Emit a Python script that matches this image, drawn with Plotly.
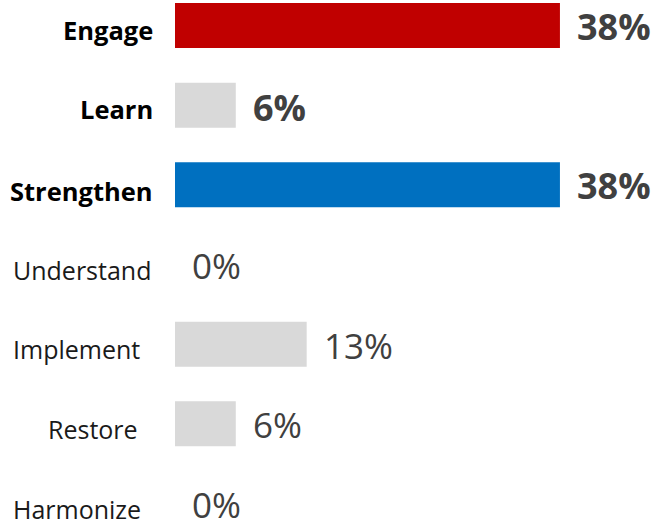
import plotly.graph_objects as go

categories = ["Engage", "Learn", "Strengthen", "Understand", "Implement", "Restore", "Harmonize"]
values = [38, 6, 38, 0, 13, 6, 0]
value_labels = ["38%", "6%", "38%", "0%", "13%", "6%", "0%"]
highlight = [True, True, True, False, False, False, False]

bar_colors = ["#C00000", "#D9D9D9", "#0070C0", "#D9D9D9", "#D9D9D9", "#D9D9D9", "#D9D9D9"]
label_right_shift = [-20, -20, -20, -22, -33, -35, -32]
label_yshift = [-5, -4, -6, -5, -5, -5, -5]
value_yshift = [-1, -2, -1, -1, -1, -1, -1]

FONT = "Open Sans"
ROW = 79.7

fig = go.Figure()
fig.add_trace(go.Bar(
    y=categories, x=values, orientation="h",
    marker=dict(color=bar_colors, line=dict(width=0)),
    width=45 / ROW, hoverinfo="skip",
))

annotations = []
for i, (cat, v, lab, hl) in enumerate(zip(categories, values, value_labels, highlight)):
    annotations.append(dict(
        x=0, xref="paper", y=cat, yref="y", text=f"<b>{cat}</b>" if hl else cat,
        showarrow=False, xanchor="right", yanchor="middle",
        xshift=label_right_shift[i], yshift=label_yshift[i],
        font=dict(family=FONT, size=25.5 if hl else 25, color="#000000" if hl else "#1a1a1a"),
    ))
    annotations.append(dict(
        x=v, xref="x", y=cat, yref="y", text=f"<b>{lab}</b>" if hl else lab,
        showarrow=False, xanchor="left", yanchor="middle",
        xshift=15, yshift=value_yshift[i],
        font=dict(family=FONT, size=36 if hl else 35, color="#404040"),
    ))

fig.update_layout(
    width=655, height=520,
    margin=dict(l=175, r=0, t=0, b=0),
    paper_bgcolor="white", plot_bgcolor="white",
    showlegend=False,
    annotations=annotations,
    xaxis=dict(range=[0, 480 / 10.13], visible=False, fixedrange=True),
    yaxis=dict(categoryorder="array", categoryarray=categories,
               range=[6 + (520 - 503.5) / ROW, -25.5 / ROW], visible=False, fixedrange=True),
)

fig.write_html("out.html")
